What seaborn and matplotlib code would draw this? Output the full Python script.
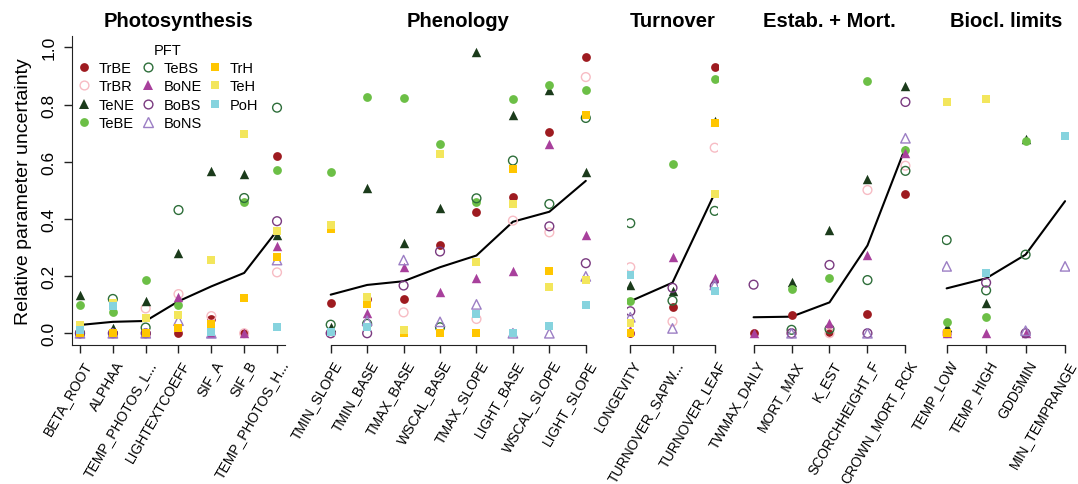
import matplotlib.pyplot as plt
import matplotlib.transforms as mtransforms
import numpy as np
import pandas as pd
import seaborn as sns
from matplotlib.lines import Line2D

N = np.nan

groups = ["Photosynthesis", "Phenology", "Turnover", "Estab. + Mort.", "Biocl. limits"]
params = [
    ["BETA_ROOT", "ALPHAA", "TEMP_PHOTOS_L...", "LIGHTEXTCOEFF", "SIF_A", "SIF_B", "TEMP_PHOTOS_H..."],
    ["TMIN_SLOPE", "TMIN_BASE", "TMAX_BASE", "WSCAL_BASE", "TMAX_SLOPE", "LIGHT_BASE", "WSCAL_SLOPE", "LIGHT_SLOPE"],
    ["LONGEVITY", "TURNOVER_SAPW...", "TURNOVER_LEAF"],
    ["TWMAX_DAILY", "MORT_MAX", "K_EST", "SCORCHHEIGHT_F", "CROWN_MORT_RCK"],
    ["TEMP_LOW", "TEMP_HIGH", "GDD5MIN", "MIN_TEMPRANGE"],
]

pfts = ["TrBE", "TrBR", "TeNE", "TeBE", "TeBS", "BoNE", "BoBS", "BoNS", "TrH", "TeH", "PoH"]

# relative uncertainty per PFT, in the parameter order above (27 values)
TrBE = [0, 0, 0, 0.0, 0.05, 0.0, 0.62, 0.105, 0.12, 0.12, 0.307, 0.425, 0.476, 0.705, 0.967,
        0.0, 0.091, 0.931, 0, 0.064, 0.003, 0.066, 0.488, 0, N, N, N]
TrBR = [0, N, 0.087, 0.137, 0.06, 0.0, 0.213, 0, N, 0.073, N, 0.05, 0.394, 0.353, 0.896,
        0.231, 0.041, 0.649, N, 0.0, 0.0, 0.501, 0.586, 0, N, N, N]
TeNE = [0.135, 0.017, 0.113, 0.28, 0.569, 0.557, 0.344, 0.021, 0.507, 0.315, 0.438, 0.985, 0.762, 0.852, 0.565,
        0.17, 0.147, 0.744, N, 0.178, 0.361, 0.538, 0.864, 0.021, 0.106, 0.68, N]
TeBE = [0.10, 0.073, 0.186, 0.10, N, 0.458, 0.572, 0.565, 0.827, 0.823, 0.663, 0.458, 0.819, 0.869, 0.852,
        0.112, 0.592, 0.889, N, 0.156, 0.195, 0.883, 0.641, 0.038, 0.057, 0.674, N]
TeBS = [0, 0.12, 0.02, 0.431, N, 0.473, 0.789, 0.03, 0.033, N, 0.021, 0.472, 0.604, 0.452, 0.753,
        0.385, 0.114, 0.428, N, 0.012, 0.015, 0.186, 0.568, 0.326, 0.15, 0.275, N]
BoNE = [0, 0, 0, 0.128, 0, 0.0, 0.304, N, 0.071, 0.233, 0.143, 0.193, 0.217, 0.661, 0.344,
        0.013, 0.266, 0.192, 0.0, N, 0.036, 0.275, 0.63, 0, 0, 0, N]
BoBS = [0, 0, 0, N, N, N, 0.392, 0, 0, 0.167, 0.286, N, N, 0.374, 0.245,
        0.077, 0.159, 0.165, 0.17, 0.0, 0.239, 0.0, 0.809, N, 0.177, 0.0, N]
BoNS = [0, 0, 0, 0.044, 0, N, 0.256, N, 0.044, 0.256, 0.04, 0.101, 0.0, 0.0, 0.199,
        0.056, 0.017, 0.169, N, 0.0, N, 0.0, 0.682, 0.234, N, 0.009, 0.234]
TrH = [0, 0, 0, 0.019, 0.033, 0.124, 0.266, 0.365, 0.103, 0.0, 0.0, 0.0, 0.573, 0.219, 0.763,
       0.0, N, 0.734, N, N, N, N, N, 0.0, N, N, N]
TeH = [0.03, 0.106, 0.052, 0.064, 0.255, 0.696, 0.357, 0.38, 0.126, 0.01, 0.627, 0.248, 0.452, 0.161, 0.186,
       0.035, N, 0.487, N, N, N, N, N, 0.808, 0.819, N, N]
PoH = [0.01, 0.095, N, N, 0.006, N, 0.021, 0.003, 0.021, N, N, 0.068, 0.001, 0.024, 0.099,
       0.203, N, 0.149, N, N, N, N, N, N, 0.211, N, 0.689]

# black line: average over PFTs
mean_unc = [0.029, 0.04, 0.043, 0.112, 0.164, 0.211, 0.359, 0.135, 0.169, 0.182, 0.231, 0.272, 0.39, 0.425, 0.533,
            0.112, 0.177, 0.49, 0.056, 0.058, 0.108, 0.307, 0.65, 0.157, 0.192, 0.275, 0.462]

values = dict(TrBE=TrBE, TrBR=TrBR, TeNE=TeNE, TeBE=TeBE, TeBS=TeBS, BoNE=BoNE,
              BoBS=BoBS, BoNS=BoNS, TrH=TrH, TeH=TeH, PoH=PoH)

colors = {"TrBE": "#9E1B20", "TrBR": "#F7BCC4", "TeNE": "#1B3B1B", "TeBE": "#6CBF46",
          "TeBS": "#2E6E3A", "BoNE": "#A8409C", "BoBS": "#7A3A80", "BoNS": "#9C7EC4",
          "TrH": "#FFC600", "TeH": "#F3E65C", "PoH": "#86D3DE"}
markers = {"TrBE": ("o", True), "TrBR": ("o", False), "TeNE": ("^", True), "TeBE": ("o", True),
           "TeBS": ("o", False), "BoNE": ("^", True), "BoBS": ("o", False), "BoNS": ("^", False),
           "TrH": ("s", True), "TeH": ("s", True), "PoH": ("s", True)}
sizes = {"o": 40, "^": 46, "s": 34}

# long table
grp_col, par_col, pos_col = [], [], []
for g, plist in zip(groups, params):
    for i, p in enumerate(plist):
        grp_col.append(g)
        par_col.append(p)
        pos_col.append(i + 1)
base = pd.DataFrame({"group": grp_col, "param": par_col, "pos": pos_col, "mean": mean_unc})
df = pd.concat([base.assign(pft=k, value=v) for k, v in values.items()], ignore_index=True)

sns.set_style("ticks")
plt.rcParams["font.family"] = ["Liberation Sans", "DejaVu Sans"]
plt.rcParams.update({"text.color": "black", "axes.labelcolor": "black",
                     "xtick.color": "black", "ytick.color": "black"})

fig = plt.figure(figsize=(10.78, 4.85), dpi=100)
W, H = 1078, 485
lefts = [72.1, 320.5, 626.9, 747.5, 941.9]
rights = [284.9, 596.0, 718.1, 911.5, 1069.8]
ax_top, ax_bot = 36.9, 345.7

axes = []
for g, plist, l, r in zip(groups, params, lefts, rights):
    ax = fig.add_axes([l / W, 1 - ax_bot / H, (r - l) / W, (ax_bot - ax_top) / H])
    n = len(plist)
    sub = df[df.group == g]
    for pft in pfts:
        d = sub[sub.pft == pft].dropna(subset=["value"])
        if d.empty:
            continue
        m, filled = markers[pft]
        c = colors[pft]
        if filled:
            sns.scatterplot(data=d, x="pos", y="value", ax=ax, color=c, marker=m,
                            s=sizes[m], linewidth=0, zorder=3)
        else:
            sns.scatterplot(data=d, x="pos", y="value", ax=ax, color=c, marker=m,
                            s=sizes[m], facecolors="none", edgecolor=c, linewidth=1.0, zorder=3)
    sns.lineplot(data=sub.drop_duplicates("param"), x="pos", y="mean", ax=ax,
                 color="black", linewidth=1.5, zorder=2)

    pad = 0.04 * (n - 1)
    ax.set_xlim(1 - pad, n + pad)
    ax.set_ylim(-0.04, 1.04)
    ax.set_xlabel("")
    ax.set_ylabel("")
    ax.set_xticks(range(1, n + 1))
    ax.set_xticklabels(plist, rotation=60, ha="right", va="center",
                       rotation_mode="anchor", fontsize=10)
    ax.tick_params(axis="x", length=6, width=1, pad=6, color="#222222")
    off = mtransforms.ScaledTranslation(8 / 100, 0, fig.dpi_scale_trans)
    for lab in ax.get_xticklabels():
        lab.set_transform(lab.get_transform() + off)
    ax.set_title(g, fontweight="bold", fontsize=14.5, pad=7)
    for s in ["top", "right"]:
        ax.spines[s].set_visible(False)
    ax.spines["bottom"].set_color("#222222")
    if len(axes) == 0:
        ax.set_yticks([0, 0.2, 0.4, 0.6, 0.8, 1.0])
        ax.set_yticklabels(["0.0", "0.2", "0.4", "0.6", "0.8", "1.0"], rotation=90,
                           va="center", fontsize=12.5)
        ax.tick_params(axis="y", length=6, width=1, pad=5, color="#222222")
        ax.spines["left"].set_color("#222222")
        ax.set_ylabel("Relative parameter uncertainty", fontsize=14, labelpad=7)
    else:
        ax.spines["left"].set_visible(False)
        ax.spines["bottom"].set_bounds(1, n)
        ax.set_yticks([])
    axes.append(ax)

handles = []
for pft in pfts:
    m, filled = markers[pft]
    c = colors[pft]
    handles.append(Line2D([], [], linestyle="none", marker=m, markersize=np.sqrt(sizes[m]),
                          markerfacecolor=c if filled else "none", markeredgecolor=c,
                          markeredgewidth=0 if filled else 1.0, label=pft))
leg = axes[0].legend(handles=handles, ncol=3, frameon=False, title="PFT", loc="upper left",
                     bbox_to_anchor=(0.02, 0.978), borderaxespad=0, borderpad=0,
                     fontsize=10.5, title_fontsize=10.5, handlelength=1.0, handletextpad=0.55,
                     columnspacing=0.4, labelspacing=0.3)

fig.savefig("out.png", dpi=100)
